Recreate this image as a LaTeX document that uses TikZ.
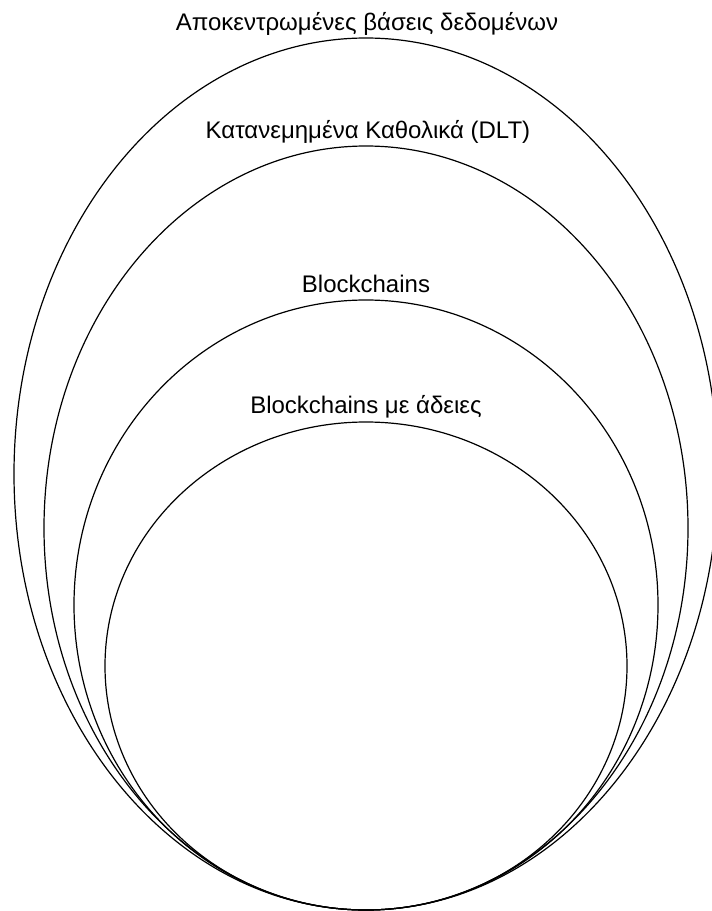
\documentclass[tikz,border=0pt]{standalone}
\usepackage{fontspec}
\setmainfont{Liberation Sans}
\usetikzlibrary{shapes.geometric}
\begin{document}
\begin{tikzpicture}[x=1pt,y=-1pt,
  set/.style={ellipse,draw,line width=1.2pt,inner sep=0pt,outer sep=0pt},
  setlabel/.style={font=\fontsize{24}{28}\selectfont,inner sep=0pt,anchor=base}]
  \useasboundingbox (0,0) rectangle (712,911);
  \clip (0,0) rectangle (712,911);
  % nested sets, all touching at the bottom
  \node[set,minimum width=704pt,minimum height=872pt] (dbs)  at (366,474) {};
  \node[set,minimum width=644pt,minimum height=764pt] (dlt)  at (366,528) {};
  \node[set,minimum width=584pt,minimum height=610pt] (bc)   at (366,605) {};
  \node[set,minimum width=522pt,minimum height=488pt] (pbc)  at (366,666) {};
  % set labels
  \node[setlabel] (tdbs) at (367,30)  {Αποκεντρωμένες βάσεις δεδομένων};
  \node[setlabel] (tdlt) at (368,138) {Κατανεμημένα Καθολικά (DLT)};
  \node[setlabel] (tbc)  at (366,292) {Blockchains};
  \node[setlabel] (tpbc) at (366,413) {Blockchains με άδειες};
\end{tikzpicture}
\end{document}
